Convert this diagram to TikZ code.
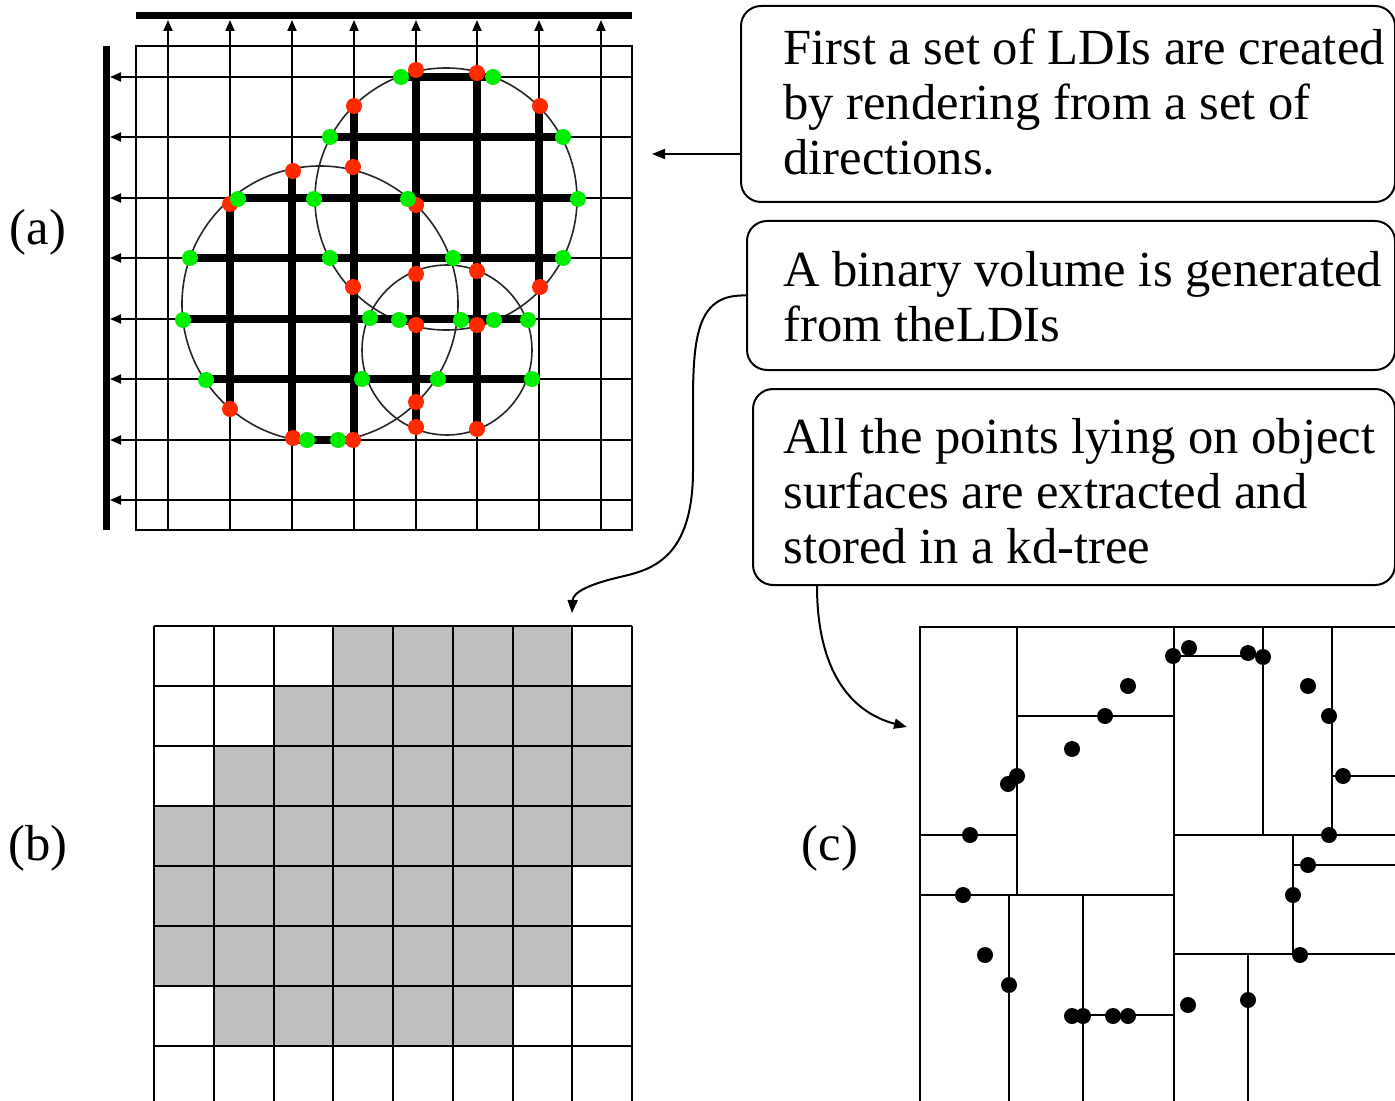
\documentclass[tikz,border=0pt]{standalone}
\usepackage{fontspec}
\setmainfont{Liberation Serif}
\usetikzlibrary{arrows.meta}

\definecolor{hitred}{RGB}{255,42,0}
\definecolor{hitgreen}{RGB}{0,238,0}

\begin{document}
\begin{tikzpicture}[
        x=0.5pt, y=-0.5pt,
        font=\fontsize{25.3}{27.5}\selectfont,
        note/.style={
            draw,
            line width=1pt,
            rounded corners=10pt,
            anchor=north west,
            inner sep=0pt
        },
        notetext/.style={
            anchor=base west,
            align=left,
            inner sep=0pt
        },
        gridline/.style={line width=1pt},
        bar/.style={line width=3.5pt},
        ray/.style={
            gridline,
            -{Triangle[length=5.5pt, width=4.5pt]}
        },
        shell/.style={line width=0.8pt, black!85},
        occupied/.style={line width=4pt},
        link/.style={
            -{Triangle[length=6.5pt, width=5pt]},
            line width=1pt
        },
        cellgray/.style={fill=black!25}
    ]

    \useasboundingbox (0,0) rectangle (1395,1101);
    \clip (0,0) rectangle (1395,1101);

    % (a) LDIs rendered along two directions
    \draw[bar] (136,16) -- (632,16);
    \draw[bar] (106,46) -- (106,530);
    \draw[gridline] (136,46) rectangle (632,530);
    \foreach \x in {168,230,292,354,416,477,539,601}
        \draw[ray] (\x,530) -- (\x,20);
    \foreach \y in {77,137,198,258,319,379,440,500}
        \draw[ray] (632,\y) -- (110,\y);

    \draw[shell] (446,199) circle[radius=131];
    \draw[shell] (320,304) circle[radius=138];
    \draw[shell] (447,350) circle[radius=85];

    \foreach \x/\a/\b in {230/204/409, 292/171/438, 354/106/440,
                          416/70/427, 477/72/429, 539/106/287}
        \draw[occupied] (\x,\a) -- (\x,\b);
    \foreach \y/\a/\b in {77/401/493, 137/330/563, 198/238/578,
                          258/190/563, 319/183/528, 379/206/532, 440/293/353}
        \draw[occupied] (\a,\y) -- (\b,\y);

    \foreach \x/\y in {416/70, 477/73, 354/106, 540/106, 293/171, 353/167,
                       230/204, 416/205, 416/274, 477/271, 353/287, 540/287,
                       416/325, 477/325, 230/409, 416/402, 416/427, 477/429,
                       293/438, 353/440}
        \fill[hitred] (\x,\y) circle[radius=8];
    \foreach \x/\y in {401/77, 493/77, 330/137, 563/137, 238/199, 314/199,
                       408/199, 578/199, 190/258, 330/258, 453/258, 563/258,
                       183/320, 370/318, 399/320, 461/320, 494/320, 528/320,
                       206/380, 362/379, 438/379, 532/379, 307/440, 338/440}
        \fill[hitgreen] (\x,\y) circle[radius=8];

    \node (laba) at (38,232) {(a)};
    \coordinate (ldiend) at (652,154);

    % (b) binary volume
    \foreach \r/\a/\b in {0/3/6, 1/2/7, 2/1/7, 3/0/7, 4/0/6, 5/0/6, 6/1/5}
        \fill[cellgray] ({154+59.75*\a},{626+60*\r})
            rectangle ({154+59.75*(\b+1)},{626+60*(\r+1)});
    \foreach \i in {0,...,8}
        \draw[gridline] ({154+59.75*\i},626) -- ({154+59.75*\i},1110);
    \foreach \j in {0,...,7}
        \draw[gridline] (154,{626+60*\j}) -- (632,{626+60*\j});

    \node (labb) at (38,848) {(b)};
    \coordinate (voltarget) at (572,613);

    % (c) kd-tree over surface points
    \draw[gridline] (920,1110) -- (920,627) -- (1400,627);
    \draw[gridline] (1017,627) -- (1017,895);
    \draw[gridline] (1017,716) -- (1174,716);
    \draw[gridline] (1174,627) -- (1174,1110);
    \draw[gridline] (1174,656) -- (1263,656);
    \draw[gridline] (1263,627) -- (1263,835);
    \draw[gridline] (1332,627) -- (1332,835);
    \draw[gridline] (1332,776) -- (1400,776);
    \draw[gridline] (1174,835) -- (1400,835);
    \draw[gridline] (920,835) -- (1017,835);
    \draw[gridline] (1293,835) -- (1293,954);
    \draw[gridline] (1293,865) -- (1400,865);
    \draw[gridline] (1174,954) -- (1400,954);
    \draw[gridline] (1248,954) -- (1248,1110);
    \draw[gridline] (920,895) -- (1174,895);
    \draw[gridline] (1009,895) -- (1009,1110);
    \draw[gridline] (1083,895) -- (1083,1110);
    \draw[gridline] (1083,1015) -- (1174,1015);

    \foreach \x/\y in {1173/656, 1189/648, 1248/653, 1263/657, 1128/686,
                       1308/686, 1105/716, 1329/716, 1072/749, 1017/776,
                       1008/784, 1343/776, 970/835, 1329/835, 1308/865,
                       963/895, 1293/895, 985/955, 1300/955, 1009/985,
                       1188/1005, 1248/1000, 1072/1016, 1083/1016,
                       1113/1016, 1128/1016}
        \fill (\x,\y) circle[radius=8];

    \node (labc) at (830,848) {(c)};
    \coordinate (kdtarget) at (907,727);

    % the three steps
    \node[note, minimum width=327pt, minimum height=98pt] (ldibox) at (740,5) {};
    \node[note, minimum width=324pt, minimum height=74.5pt] (binbox) at (746,220) {};
    \node[note, minimum width=321pt, minimum height=98pt] (kdbox) at (752,388) {};

    \node[notetext] (ldi) at (783,175)
        {First a set of LDIs are created\\by rendering from a set of\\directions.};
    \node[notetext] (bin) at (783,342)
        {A binary volume is generated\\from theLDIs};
    \node[notetext] (kd) at (783,563)
        {All the points lying on object\\surfaces are extracted and\\stored in a kd-tree};

    \draw[link] (ldibox.west |- ldiend) -- (ldiend);
    \draw[link] (binbox.west) .. controls (700,294) and (693,330) .. (693,400)
        -- (693,470) .. controls (693,560) and (650,570) .. (620,577)
        .. controls (590,584) and (573,592) .. (voltarget);
    \draw[link] ([xshift=32.5pt]kdbox.south west) .. controls (817,670) and (850,712) .. (kdtarget);

\end{tikzpicture}
\end{document}
